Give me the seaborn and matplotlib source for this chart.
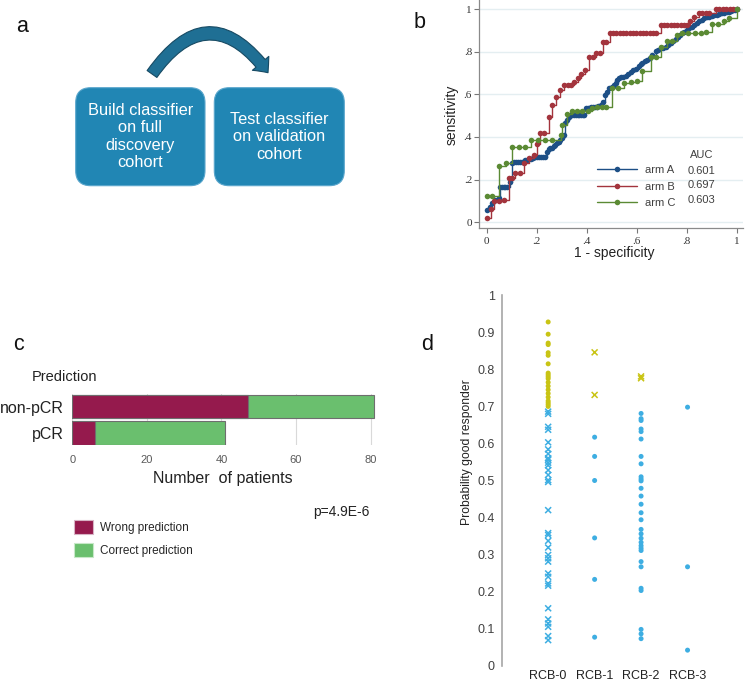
import numpy as np
import pandas as pd
import matplotlib.pyplot as plt
import seaborn as sns
from matplotlib.patches import FancyBboxPatch, FancyArrowPatch, Patch

sns.set_theme(style="white")
plt.rcParams['font.family'] = ['Liberation Sans', 'DejaVu Sans']

# ---- b: ROC curves ----
arms = ['arm A', 'arm B', 'arm C']
auc = ['0.601', '0.697', '0.603']
roc_colors = ['#1d4f86', '#a3343d', '#5b8a34']

fpr_a = [0, 0.011, 0.02, 0.033, 0.047, 0.053, 0.06, 0.067, 0.074, 0.08, 0.091, 0.10, 0.108, 0.116, 0.124,
         0.132, 0.14, 0.148, 0.154, 0.162, 0.17, 0.178, 0.186, 0.194, 0.202, 0.21, 0.218, 0.226, 0.234,
         0.241, 0.247, 0.254, 0.261, 0.268, 0.274, 0.28, 0.287, 0.294, 0.301, 0.31, 0.314, 0.321, 0.328,
         0.335, 0.342, 0.349, 0.356, 0.363, 0.37, 0.377, 0.384, 0.39, 0.397, 0.404, 0.411, 0.418, 0.425,
         0.432, 0.439, 0.446, 0.455, 0.465, 0.471, 0.481, 0.49, 0.499, 0.508, 0.515, 0.521, 0.528, 0.535,
         0.545, 0.555, 0.565, 0.575, 0.585, 0.595, 0.608, 0.615, 0.622, 0.632, 0.642, 0.652, 0.662, 0.675,
         0.685, 0.695, 0.705, 0.715, 0.725, 0.735, 0.745, 0.755, 0.765, 0.773, 0.781, 0.789, 0.799, 0.809,
         0.819, 0.829, 0.839, 0.849, 0.859, 0.869, 0.879, 0.889, 0.899, 0.909, 0.919, 0.929, 0.939, 0.949,
         0.959, 0.969, 0.976, 0.983, 0.991, 1.0]
tpr_a = [0.056, 0.069, 0.091, 0.103, 0.111, 0.166, 0.166, 0.166, 0.166, 0.166, 0.19, 0.276, 0.28, 0.28, 0.28,
         0.28, 0.28, 0.284, 0.291, 0.291, 0.296, 0.296, 0.3, 0.304, 0.304, 0.304, 0.304, 0.304, 0.304,
         0.33, 0.342, 0.346, 0.35, 0.356, 0.362, 0.37, 0.378, 0.386, 0.393, 0.409, 0.464, 0.48, 0.496,
         0.503, 0.503, 0.503, 0.503, 0.503, 0.503, 0.503, 0.503, 0.503, 0.534, 0.537, 0.537, 0.54, 0.54,
         0.54, 0.543, 0.546, 0.55, 0.566, 0.597, 0.613, 0.628, 0.636, 0.644, 0.656, 0.668, 0.675, 0.68,
         0.683, 0.686, 0.696, 0.707, 0.713, 0.719, 0.733, 0.741, 0.749, 0.755, 0.762, 0.773, 0.785, 0.805,
         0.811, 0.817, 0.82, 0.824, 0.833, 0.843, 0.851, 0.859, 0.869, 0.879, 0.887, 0.895, 0.903, 0.911,
         0.918, 0.926, 0.936, 0.946, 0.952, 0.958, 0.962, 0.965, 0.969, 0.973, 0.975, 0.978, 0.981, 0.984,
         0.986, 0.989, 0.993, 0.997, 0.998, 1.0]

fpr_b = [0, 0.016, 0.029, 0.05, 0.067, 0.089, 0.10, 0.111, 0.131, 0.147, 0.167, 0.187, 0.20, 0.214, 0.227,
         0.247, 0.26, 0.277, 0.291, 0.307, 0.323, 0.336, 0.35, 0.364, 0.377, 0.394, 0.408, 0.424, 0.437,
         0.451, 0.464, 0.477, 0.491, 0.505, 0.518, 0.531, 0.545, 0.558, 0.572, 0.585, 0.598, 0.612, 0.625,
         0.638, 0.652, 0.665, 0.678, 0.695, 0.708, 0.722, 0.735, 0.748, 0.762, 0.775, 0.788, 0.80, 0.813,
         0.829, 0.849, 0.862, 0.875, 0.888, 0.916, 0.93, 0.944, 0.958, 0.972, 0.986, 1.0]
tpr_b = [0.017, 0.06, 0.097, 0.097, 0.103, 0.205, 0.205, 0.232, 0.232, 0.279, 0.30, 0.315, 0.367, 0.417, 0.417,
         0.492, 0.55, 0.586, 0.621, 0.644, 0.644, 0.644, 0.66, 0.676, 0.696, 0.715, 0.774, 0.774, 0.793,
         0.793, 0.848, 0.848, 0.887, 0.887, 0.887, 0.887, 0.887, 0.887, 0.887, 0.887, 0.887, 0.887, 0.887,
         0.887, 0.887, 0.887, 0.887, 0.926, 0.926, 0.926, 0.926, 0.926, 0.926, 0.926, 0.926, 0.926, 0.946,
         0.965, 0.981, 0.981, 0.981, 0.981, 1.0, 1.0, 1.0, 1.0, 1.0, 1.0, 1.0]

fpr_c = [0, 0.022, 0.05, 0.076, 0.10, 0.127, 0.153, 0.176, 0.204, 0.232, 0.26, 0.297, 0.302, 0.321, 0.341,
         0.361, 0.381, 0.404, 0.421, 0.441, 0.461, 0.478, 0.501, 0.525, 0.548, 0.575, 0.599, 0.622, 0.655,
         0.675, 0.695, 0.722, 0.742, 0.762, 0.782, 0.805, 0.832, 0.855, 0.876, 0.90, 0.925, 0.947, 0.969, 1.0]
tpr_c = [0.122, 0.122, 0.262, 0.279, 0.351, 0.351, 0.351, 0.385, 0.385, 0.385, 0.385, 0.409, 0.456, 0.509, 0.52,
         0.52, 0.52, 0.524, 0.535, 0.54, 0.54, 0.54, 0.628, 0.628, 0.652, 0.66, 0.664, 0.711, 0.777,
         0.777, 0.824, 0.853, 0.853, 0.881, 0.887, 0.887, 0.887, 0.89, 0.892, 0.929, 0.929, 0.946, 0.958, 1.0]

# ---- c: prediction bars ----
pred_cats = ['non-pCR', 'pCR']
wrong = [47, 6]
correct = [34, 35]

# ---- d: probability by RCB class ----
rcb_cats = ['RCB-0', 'RCB-1', 'RCB-2', 'RCB-3']
rcb0_good = [0.928, 0.895, 0.871, 0.867, 0.845, 0.838, 0.815, 0.79, 0.785, 0.78, 0.775, 0.765, 0.755,
             0.745, 0.735, 0.725, 0.715, 0.71, 0.705, 0.70]
rcb0_miss = [0.686, 0.68, 0.645, 0.637, 0.603, 0.584, 0.572, 0.56, 0.556, 0.548, 0.541, 0.528, 0.515,
             0.501, 0.496, 0.42, 0.358, 0.353, 0.337, 0.319, 0.299, 0.29, 0.281, 0.249, 0.24, 0.222,
             0.216, 0.155, 0.125, 0.114, 0.105, 0.08, 0.069]
rcb1_miss = [0.846, 0.731]
rcb1_ok = [0.617, 0.565, 0.5, 0.345, 0.233, 0.077]
rcb2_miss = [0.781, 0.776]
rcb2_ok = [0.681, 0.667, 0.662, 0.639, 0.632, 0.612, 0.565, 0.545, 0.51, 0.504, 0.499, 0.479, 0.458,
           0.436, 0.413, 0.394, 0.368, 0.356, 0.344, 0.333, 0.324, 0.317, 0.311, 0.281, 0.267, 0.209,
           0.203, 0.098, 0.086, 0.073]
rcb3_ok = [0.698, 0.267, 0.042]

W, H = 745, 682
fig = plt.figure(figsize=(W / 100, H / 100), dpi=100)


def box(l, t, r, b):
    return [l / W, 1 - b / H, (r - l) / W, (b - t) / H]


# ---------- panel b ----------
axb = fig.add_axes(box(479, 0, 743, 228))
roc = pd.concat([
    pd.DataFrame({'fpr': fpr_a, 'tpr': tpr_a, 'arm': 'arm A'}),
    pd.DataFrame({'fpr': fpr_b, 'tpr': tpr_b, 'arm': 'arm B'}),
    pd.DataFrame({'fpr': fpr_c, 'tpr': tpr_c, 'arm': 'arm C'}),
])
sns.lineplot(data=roc, x='fpr', y='tpr', hue='arm', hue_order=arms, palette=roc_colors,
             estimator=None, sort=False, drawstyle='steps-post', marker='o', markersize=4,
             markeredgewidth=0, linewidth=1, legend=False, ax=axb)
axb.set_xlim(-0.031, 1.025)
axb.set_ylim(-0.028, 1.044)
ticks = [0, 0.2, 0.4, 0.6, 0.8, 1]
tick_lbls = ['0', '.2', '.4', '.6', '.8', '1']
axb.set_xticks(ticks, tick_lbls, family='Liberation Serif', fontsize=8, color='#333333')
axb.set_yticks(ticks, tick_lbls, family='Liberation Serif', fontsize=8, color='#333333')
axb.tick_params(axis='both', direction='out', length=3.5, width=0.8, color='#777777', pad=1.5,
                bottom=True, left=True)
axb.tick_params(axis='x', pad=3)
axb.yaxis.grid(True, color='#e4eef1', linewidth=1)
axb.xaxis.grid(False)
axb.set_axisbelow(True)
for s in ['top', 'right']:
    axb.spines[s].set_visible(False)
for s in ['left', 'bottom']:
    axb.spines[s].set_color('#8a8a8a')
    axb.spines[s].set_linewidth(0.9)
axb.set_xlabel('')
axb.set_ylabel('')
leg = axb.legend(handles=axb.get_lines()[:3], labels=arms, loc='upper left',
                 bbox_to_anchor=(597 / W, 1 - 165 / H), bbox_transform=fig.transFigure,
                 frameon=False, fontsize=8, handlelength=3.6, handletextpad=0.7,
                 labelspacing=0.6, borderpad=0, borderaxespad=0, numpoints=1)
for t in leg.get_texts():
    t.set_color('#404040')

# ---------- panel c ----------
axc = fig.add_axes(box(72.3, 394.3, 378, 445.4))
dfc = pd.DataFrame({'pred': pred_cats, 'wrong': wrong, 'correct': correct})
dfc['total'] = dfc['wrong'] + dfc['correct']
maroon, green = '#951a4d', '#6abf6e'
sns.barplot(data=dfc, x='total', y='pred', orient='h', color=green, saturation=1, width=0.89,
            edgecolor='#6e6e6e', linewidth=0.8, ax=axc)
sns.barplot(data=dfc, x='wrong', y='pred', orient='h', color=maroon, saturation=1, width=0.89,
            edgecolor='#6e6e6e', linewidth=0.8, ax=axc)
axc.set_xlim(0, 82)
axc.set_ylim(1.47, -0.47)
axc.set_xticks([0, 20, 40, 60, 80])
axc.tick_params(axis='x', labelsize=8, labelcolor='#595959', length=0, pad=7)
axc.tick_params(axis='y', labelsize=11.5, labelcolor='#222222', length=0, pad=6)
axc.xaxis.grid(True, color='#d9d9d9', linewidth=0.8)
axc.set_axisbelow(True)
for s in axc.spines.values():
    s.set_visible(False)
axc.set_xlabel('')
axc.set_ylabel('')
legc = axc.legend(handles=[Patch(facecolor=maroon, edgecolor='#d7b3c4', linewidth=0.8),
                           Patch(facecolor=green, edgecolor='#c7e8c8', linewidth=0.8)],
                  labels=['Wrong prediction', 'Correct prediction'], loc='upper left',
                  bbox_to_anchor=(74 / W, 1 - 520 / H), bbox_transform=fig.transFigure,
                  frameon=False, fontsize=8.5, handlelength=1.6, handleheight=1.45,
                  handletextpad=0.6, labelspacing=0.8, borderpad=0, borderaxespad=0)

# ---------- panel d ----------
axd = fig.add_axes(box(501.7, 295.3, 734, 665.7))
rows = []
for cat, vals, pred, ok in [('RCB-0', rcb0_good, 'good', True), ('RCB-0', rcb0_miss, 'poor', False),
                            ('RCB-1', rcb1_miss, 'good', False), ('RCB-1', rcb1_ok, 'poor', True),
                            ('RCB-2', rcb2_miss, 'good', False), ('RCB-2', rcb2_ok, 'poor', True),
                            ('RCB-3', rcb3_ok, 'poor', True)]:
    for v in vals:
        rows.append({'rcb': cat, 'prob': v, 'pred': pred, 'ok': ok})
dfd = pd.DataFrame(rows)
d_pal = {'good': '#c9c414', 'poor': '#3eaee2'}
sns.stripplot(data=dfd[dfd['ok']], x='rcb', y='prob', order=rcb_cats, hue='pred',
              hue_order=['good', 'poor'], palette=d_pal, jitter=False, size=3.6,
              linewidth=0, legend=False, ax=axd)
sns.stripplot(data=dfd[~dfd['ok']], x='rcb', y='prob', order=rcb_cats, hue='pred',
              hue_order=['good', 'poor'], palette=d_pal, jitter=False, size=4.3, marker='x',
              linewidth=1.1, legend=False, ax=axd)
axd.set_xlim(-1, 4)
axd.set_ylim(0, 1)
axd.set_yticks([0, 0.1, 0.2, 0.3, 0.4, 0.5, 0.6, 0.7, 0.8, 0.9, 1],
               ['0', '0.1', '0.2', '0.3', '0.4', '0.5', '0.6', '0.7', '0.8', '0.9', '1'])
axd.tick_params(axis='y', labelsize=9, labelcolor='#404040', length=0, pad=5)
axd.tick_params(axis='x', labelsize=9, labelcolor='#222222', length=0, pad=3)
for s in ['top', 'right', 'bottom']:
    axd.spines[s].set_visible(False)
axd.spines['left'].set_color('#a6a6a6')
axd.spines['left'].set_linewidth(1.2)
axd.set_xlabel('')
axd.set_ylabel('')

# ---------- overlay: panel a and free text ----------
ax0 = fig.add_axes([0, 0, 1, 1])
ax0.set_xlim(0, W)
ax0.set_ylim(H, 0)
ax0.axis('off')

for l, r, cx, cy, txt in [(75.7, 205, 140.3, 136.5, 'Build classifier\non full\ndiscovery\ncohort'),
                          (214.3, 344.3, 279.3, 136.7, 'Test classifier\non validation\ncohort')]:
    ax0.add_patch(FancyBboxPatch((l, 87.7), r - l, 98, boxstyle='round,pad=0,rounding_size=15',
                                 facecolor='#2186b4', edgecolor='#5aa6cc', linewidth=0.8))
    ax0.text(cx, cy, txt, ha='center', va='center', color='white', fontsize=11.8, linespacing=1.2)

ax0.add_patch(FancyArrowPatch((152, 74), (268, 72.7), connectionstyle='arc3,rad=-0.69',
                              arrowstyle='simple,head_length=8.6,head_width=15.5,tail_width=8.6',
                              mutation_scale=1, shrinkA=0, shrinkB=0,
                              facecolor='#1f6f94', edgecolor='#174a63', linewidth=0.8))

for x, y, s in [(22, 27, 'a'), (420, 23, 'b'), (19, 345, 'c'), (427, 345, 'd')]:
    ax0.text(x, y, s, fontsize=15.5, ha='center', va='center', color='#111111')

ax0.text(451.7, 115, 'sensitivity', rotation=90, ha='center', va='center', fontsize=10, color='#222222')
ax0.text(614, 253, '1 - specificity', ha='center', va='center', fontsize=10, color='#222222')
ax0.text(702, 155, 'AUC', ha='center', va='center', fontsize=8, color='#404040')
for yy, a in zip([171, 185.5, 200], auc):
    ax0.text(688, yy, a, ha='left', va='center', fontsize=8, color='#404040')

ax0.text(32, 377, 'Prediction', ha='left', va='center', fontsize=10.5, color='#222222')
ax0.text(223, 479, 'Number  of patients', ha='center', va='center', fontsize=11.5, color='#222222')
ax0.text(341, 512, 'p=4.9E-6', ha='center', va='center', fontsize=10, color='#222222')
ax0.text(466.7, 452.5, 'Probability good responder', rotation=90, ha='center', va='center',
         fontsize=8.7, color='#222222')

fig.savefig('out.png', dpi=100)
